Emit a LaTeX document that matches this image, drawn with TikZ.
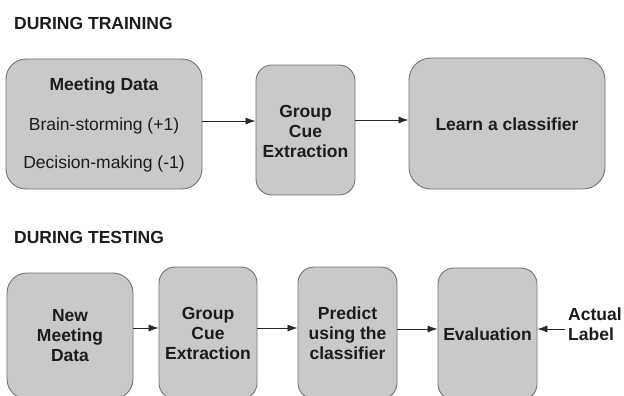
\documentclass[tikz,border=0pt]{standalone}
\usepackage{fontspec}
\setmainfont{Liberation Sans}
\usetikzlibrary{arrows.meta}
\definecolor{boxfill}{RGB}{201,201,201}
\definecolor{boxline}{RGB}{115,115,115}
\definecolor{txt}{RGB}{28,28,28}
\definecolor{arr}{RGB}{40,40,40}
\tikzset{
  stagebox/.style={draw=boxline, fill=boxfill, line width=0.9pt, rounded corners=#1, inner sep=0pt},
  stagebox/.default=18pt,
  lbl/.style={text=txt, font=\fontsize{17.5}{20}\selectfont\bfseries, align=center, inner sep=0pt},
  lblr/.style={text=txt, font=\fontsize{17.5}{20}\selectfont, align=center, inner sep=0pt},
  head/.style={text=txt, font=\fontsize{17.5}{20}\selectfont\bfseries, anchor=base west, inner sep=0pt},
  flow/.style={draw=arr, line width=0.8pt, -{Latex[length=10pt,width=7pt]}}
}
\begin{document}
\begin{tikzpicture}[x=1pt,y=-1pt]
\useasboundingbox (0,0) rectangle (624,396);
\fill[white] (0,0) rectangle (624,396);
\clip (0,0) rectangle (624,396);

% headings
\node[head] (htrain) at (14,30) {DURING TRAINING};
\node[head] (htest) at (14,243) {DURING TESTING};

% training row
\node[stagebox=20pt, minimum width=196pt, minimum height=130pt] (md) at (104,124) {};
\node[lbl] (md1) at (104,86) {Meeting Data};
\node[lblr] (md2) at (104,126) {Brain-storming (+1)};
\node[lblr] (md3) at (104,164) {Decision-making (-1)};

\node[stagebox=16pt, minimum width=99pt, minimum height=130pt] (gc1) at (305.5,130) {};
\node[lbl] (gc1t) at (305.5,131) {Group\\Cue\\Extraction};

\node[stagebox=22pt, minimum width=196pt, minimum height=131pt] (lc) at (507,123.5) {};
\node[lbl] (lct) at (507,124) {Learn a classifier};

\draw[flow] (md.east |- 0,121) -- (gc1.west |- 0,121);
\draw[flow] (gc1.east |- 0,120) -- (lc.west |- 0,120);

% testing row
\node[stagebox=20pt, minimum width=126pt, minimum height=126pt] (nm) at (70,336) {};
\node[lbl] (nmt) at (70,336) {New\\Meeting\\Data};

\node[stagebox=16pt, minimum width=98pt, minimum height=132pt] (gc2) at (208,333) {};
\node[lbl] (gc2t) at (208,333.5) {Group\\Cue\\Extraction};

\node[stagebox=16pt, minimum width=99pt, minimum height=132pt] (pr) at (347.5,333) {};
\node[lbl] (prt) at (347.5,333.5) {Predict\\using the\\classifier};

\node[stagebox=16pt, minimum width=99pt, minimum height=132pt] (ev) at (487.5,334) {};
\node[lbl] (evt) at (487.5,334) {Evaluation};

\node[lbl, align=left, anchor=west] (al) at (568,324) {Actual\\Label};

\draw[flow] (nm.east |- 0,328) -- (gc2.west |- 0,328);
\draw[flow] (gc2.east |- 0,328) -- (pr.west |- 0,328);
\draw[flow] (pr.east |- 0,329) -- (ev.west |- 0,329);
\draw[flow] (al.west |- 0,329) ++(-3,0) -- (ev.east |- 0,329);
\end{tikzpicture}
\end{document}
